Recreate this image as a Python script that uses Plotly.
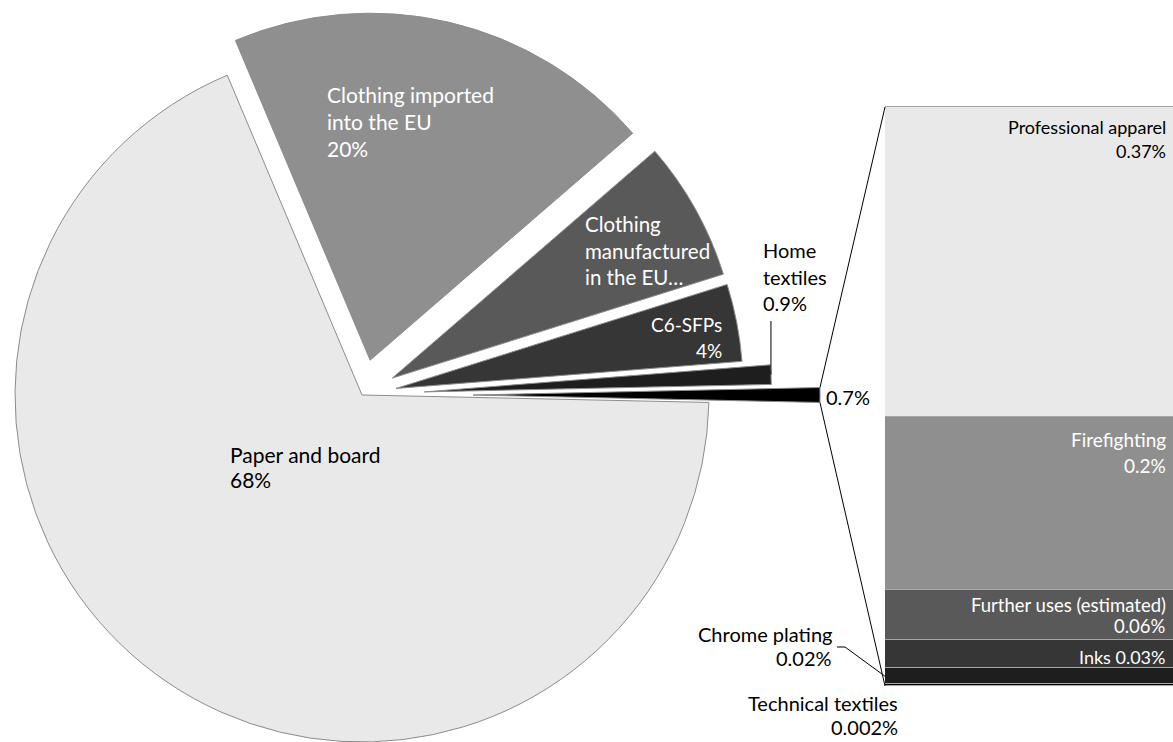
import math
import plotly.graph_objects as go

# ---------------- data ----------------
pie_labels = ["Paper and board", "Clothing imported into the EU", "Clothing manufactured in the EU",
              "C6-SFPs", "Home textiles", "Other uses"]
pie_values = [68.3, 20.0, 6.5, 3.6, 0.9, 0.684]
pie_text = [["Paper and board", "68%"], ["Clothing imported", "into the EU", "20%"],
            ["Clothing", "manufactured", "in the EU…"], ["C6-SFPs", "4%"], ["Home", "textiles", "0.9%"], ["0.7%"]]
pie_pull = [0.0, 0.103, 0.10, 0.10, 0.18, 0.32]
pie_colors = ["#e9e9e9", "#8f8f8f", "#595959", "#363636", "#1e1e1e", "#000000"]

bar_labels = ["Technical textiles", "Chrome plating", "Inks", "Further uses (estimated)",
              "Firefighting", "Professional apparel"]
bar_values = [0.002, 0.019, 0.033, 0.059, 0.205, 0.366]
bar_text = [["Technical textiles", "0.002%"], ["Chrome plating", "0.02%"], ["Inks 0.03%"],
            ["Further uses (estimated)", "0.06%"], ["Firefighting", "0.2%"], ["Professional apparel", "0.37%"]]
bar_colors = ["#000000", "#1e1e1e", "#363636", "#595959", "#8f8f8f", "#e9e9e9"]

# ---------------- layout geometry (page pixels) ----------------
W, H = 1173, 742
CX, CY, R = 362.0, 395.0, 347.0
BAR_LEFT, BAR_TOP, BAR_BOTTOM = 885.0, 107.0, 686.0
FONT = "Lato"


def px(x):
    return x / W


def py(y):
    return 1 - y / H


total = sum(pie_values)
start = 90 + pie_values[-1] / total * 180.0
angles = []
a = start
for v in pie_values:
    span = v / total * 360.0
    angles.append((a, a + span))
    a += span

fig = go.Figure()

centres = []
for i in range(len(pie_values)):
    a0, a1 = angles[i]
    mid = math.radians((a0 + a1) / 2)
    cx = CX + pie_pull[i] * R * math.sin(mid)
    cy = CY - pie_pull[i] * R * math.cos(mid)
    centres.append((cx, cy))
    dx = [max(0, px(cx - R)), min(1, px(cx + R))]
    dy = [max(0, py(cy + R)), min(1, py(cy - R))]
    cols = [pie_colors[j] if j == i else "rgba(0,0,0,0)" for j in range(len(pie_values))]
    lw = [1 if j == i else 0 for j in range(len(pie_values))]
    fig.add_trace(go.Pie(
        labels=pie_labels, values=pie_values, sort=False, direction="clockwise",
        rotation=start, domain=dict(x=dx, y=dy), textinfo="none", hoverinfo="skip",
        showlegend=False,
        marker=dict(colors=cols, line=dict(color="#8c8c8c", width=lw)),
    ))

# ---------------- stacked bar ----------------
bar_total = sum(bar_values)
scale = bar_total / (BAR_BOTTOM - BAR_TOP)
y_lo = -(H - BAR_BOTTOM) * scale
y_hi = bar_total + BAR_TOP * scale

for lab, val, col in zip(bar_labels, bar_values, bar_colors):
    fig.add_trace(go.Bar(x=[0], y=[val], name=lab, width=1,
                         marker=dict(color=col, line=dict(color="#a6a6a6", width=1)),
                         showlegend=False, hoverinfo="skip"))


def ypix(v):
    return BAR_BOTTOM - v / scale


ocx, ocy = centres[-1]
oa0, oa1 = angles[-1]
p_top = (ocx + R * math.sin(math.radians(oa0)), ocy - R * math.cos(math.radians(oa0)))
p_bot = (ocx + R * math.sin(math.radians(oa1)), ocy - R * math.cos(math.radians(oa1)))
shapes = [
    dict(type="line", xref="paper", yref="paper", x0=px(p_top[0]), y0=py(p_top[1]),
         x1=px(BAR_LEFT), y1=py(ypix(bar_total)), line=dict(color="black", width=1)),
    dict(type="line", xref="paper", yref="paper", x0=px(p_bot[0]), y0=py(p_bot[1]),
         x1=px(BAR_LEFT), y1=py(ypix(0)), line=dict(color="black", width=1)),
]
hcx, hcy = centres[4]
ha = math.radians(sum(angles[4]) / 2)
hx, hy = hcx + R * math.sin(ha), hcy - R * math.cos(ha)
shapes.append(dict(type="line", xref="paper", yref="paper", x0=px(hx), y0=py(321), x1=px(hx), y1=py(hy),
                   line=dict(color="black", width=1)))
chrome_mid = ypix(bar_values[0] + bar_values[1] / 2)
shapes.append(dict(type="path", xref="paper", yref="paper",
                   path=f"M {px(837)},{py(647)} L {px(845)},{py(647)} L {px(BAR_LEFT)},{py(chrome_mid)}",
                   line=dict(color="black", width=1)))

annotations = []


def label(lines, x, y0, anchor, color, size, ls=26.5):
    for k, t in enumerate(lines):
        annotations.append(dict(text=t, x=px(x), y=py(y0 + k * ls), xref="paper", yref="paper",
                                xanchor=anchor, yanchor="middle", align=anchor, showarrow=False,
                                font=dict(family=FONT, size=size, color=color)))


label(pie_text[0], 228, 454, "left", "black", 21, ls=25.5)
label(pie_text[1], 325, 95, "left", "white", 21)
label(pie_text[2], 583, 224, "left", "white", 20.5)
label(pie_text[3], 724, 324, "right", "white", 19)
label(pie_text[4], 761, 250, "left", "black", 20)
label(pie_text[5], 824, 397, "left", "black", 20)
label(bar_text[1], 834, 634, "right", "black", 20, ls=24)
label(bar_text[0], 900, 703, "right", "black", 20, ls=24)

cum = 0
tops = []
for v in bar_values:
    cum += v
    tops.append(cum)


def bar_label(i, first_off, color, ls=25, size=18):
    for k, t in enumerate(bar_text[i]):
        annotations.append(dict(text=t, x=1, xshift=-5, y=tops[i], yshift=-(first_off + k * ls),
                                xref="paper", yref="y", xanchor="right", yanchor="middle", align="right",
                                showarrow=False, font=dict(family=FONT, size=size, color=color)))


bar_label(5, 20, "black", ls=24)
bar_label(4, 23, "white", ls=26, size=19)
bar_label(3, 15, "white", ls=21, size=18.5)
bar_label(2, 17, "white")

fig.update_layout(
    width=W, height=H, margin=dict(l=0, r=0, t=0, b=0),
    paper_bgcolor="white", plot_bgcolor="rgba(0,0,0,0)",
    barmode="stack", bargap=0,
    xaxis=dict(domain=[px(BAR_LEFT), 1], range=[-0.5, 0.45], visible=False, fixedrange=True),
    yaxis=dict(domain=[0, 1], range=[y_lo, y_hi], visible=False, fixedrange=True),
    shapes=shapes, annotations=annotations,
)

fig.write_html(
    "out.html",
    config={"displayModeBar": False},
    post_script="document.body.style.margin='0';document.body.style.overflow='hidden';"
                "document.documentElement.style.overflow='hidden';",
)
